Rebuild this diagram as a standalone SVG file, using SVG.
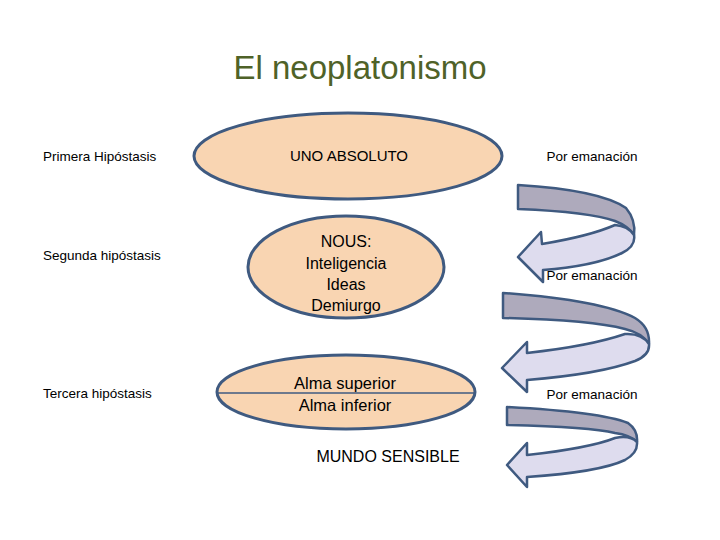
<svg xmlns="http://www.w3.org/2000/svg" width="720" height="540" viewBox="0 0 720 540">
<style>
.t{font-family:"Liberation Sans",Arial,sans-serif;fill:#000}
.l{font-size:13.5px}
.m{font-size:16px}
.c{text-anchor:middle}
.e{fill:#f9d5b2;stroke:#3f5a80;stroke-width:3}
.back{fill:#aeaabc;stroke:#3f5a80;stroke-width:2.5;stroke-linejoin:round}
.front{fill:#dedcee;stroke:#3f5a80;stroke-width:2.5;stroke-linejoin:round}
</style>
<rect width="720" height="540" fill="#fff"/>
<text class="t c" x="360" y="79" style="font-size:33px;fill:#4f6228">El neoplatonismo</text>
<g id="labels">
<text class="t l" x="43" y="161">Primera Hipóstasis</text>
<text class="t l" x="43" y="260">Segunda hipóstasis</text>
<text class="t l" x="43" y="398">Tercera hipóstasis</text>
</g>
<g id="n1">
<ellipse class="e" cx="348" cy="156" rx="154" ry="43"/>
<text class="t c" x="349" y="161" style="font-size:15px">UNO ABSOLUTO</text>
</g>
<g id="n2">
<ellipse class="e" cx="346" cy="267" rx="98" ry="51"/>
<text class="t c m" x="346" y="247">NOUS:</text>
<text class="t c m" x="346" y="269">Inteligencia</text>
<text class="t c m" x="346" y="290">Ideas</text>
<text class="t c m" x="346" y="311">Demiurgo</text>
</g>
<g id="n3">
<ellipse class="e" cx="346" cy="392" rx="129" ry="37"/>
<line x1="218" y1="393" x2="474" y2="393" stroke="#3f5a80" stroke-width="1.5"/>
<text class="t c" x="345" y="389" style="font-size:16.5px">Alma superior</text>
<text class="t c" x="345" y="411" style="font-size:16.5px">Alma inferior</text>
</g>
<g id="n4">
<text class="t c m" x="388" y="462">MUNDO SENSIBLE</text>
</g>
<g id="connectors">
<path class="back" d="M518,185 Q600,190 626,208 Q636,220 634,235 Q628,226 615,221 Q590,212 518,209 Z"/>
<path class="front" d="M634,235 Q628,226 615,225 Q590,236 542,244 L541,232 L518,257 L543,282 L543,270 Q595,266 622,253 Q636,246 634,235 Z"/>
<path class="back" d="M503,293 Q600,300 635,318 Q650,327 649,344 Q642,333 625,329 Q590,320 503,318 Z"/>
<path class="front" d="M649,344 Q642,333 625,334 Q590,346 527,353 L527,342 L502,368 L527,392 L527,380 Q600,374 635,361 Q650,355 649,344 Z"/>
<path class="back" d="M507,407 Q600,412 628,423 Q638,430 637,442 Q630,435 615,433 Q590,427 507,425 Z"/>
<path class="front" d="M637,442 Q630,435 615,438 Q590,448 527,455 L527,443 L507,465 L527,487 L527,477 Q600,472 625,460 Q638,453 637,442 Z"/>
</g>
<g id="edge-labels">
<text class="t l c" x="592" y="161">Por emanación</text>
<text class="t l c" x="592" y="280">Por emanación</text>
<text class="t l c" x="592" y="399">Por emanación</text>
</g>
</svg>
